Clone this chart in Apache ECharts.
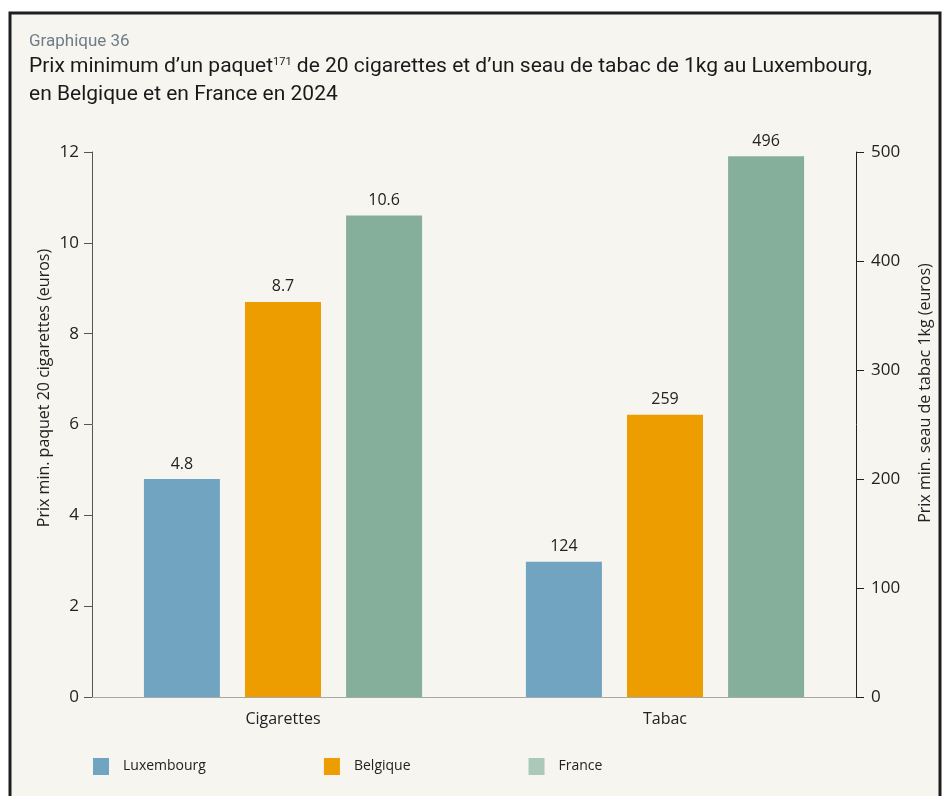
<!DOCTYPE html>
<html><head><meta charset="utf-8">
<script src="https://cdn.jsdelivr.net/npm/echarts@6/dist/echarts.min.js"></script>
<style>html,body{margin:0;padding:0;background:#fff}#c{width:942px;height:796px}</style>
</head><body><div id="c"></div>
<script>
const categories = ['Cigarettes', 'Tabac'];
const countries = ['Luxembourg', 'Belgique', 'France'];
const cigarettesValues = [4.8, 8.7, 10.6];
const tabacValues = [124, 259, 496];
const leftTicks = [0, 2, 4, 6, 8, 10, 12];
const rightTicks = [0, 100, 200, 300, 400, 500];
const colors = ['#71a4c0', '#ee9d00', '#85af9b'];
const legendColors = ['#71a4c0', '#ee9d00', '#abc9bb'];

const chart = echarts.init(document.getElementById('c'));
const F = '"Open Sans", "Noto Sans", sans-serif';
const labelStyle = {show: true, position: 'top', distance: 7, color: '#222', fontSize: 16, fontFamily: F};

const series = [];
countries.forEach((c, i) => {
  series.push({name: c, type: 'bar', xAxisIndex: 0, yAxisIndex: 0, barWidth: 76, barGap: '33%',
    itemStyle: {color: colors[i]}, label: labelStyle,
    data: [cigarettesValues[i], '-']});
});
countries.forEach((c, i) => {
  series.push({name: c, type: 'bar', xAxisIndex: 1, yAxisIndex: 1, barWidth: 76, barGap: '33%',
    itemStyle: {color: colors[i]}, label: labelStyle,
    data: ['-', tabacValues[i]]});
});

chart.setOption({
  backgroundColor: '#ffffff',
  animation: false,
  graphic: [
    {type: 'rect', shape: {x: 10, y: 13, width: 930, height: 800}, style: {fill: '#f6f5f0', stroke: '#1e1e1e', lineWidth: 3}, z: -10},
    {type: 'text', x: 44, y: 388, rotation: Math.PI / 2, style: {text: 'Prix min. paquet 20 cigarettes (euros)', fill: '#222', font: '16px "Open Sans", sans-serif', align: 'center', verticalAlign: 'middle'}},
    {type: 'text', x: 925, y: 393, rotation: Math.PI / 2, style: {text: 'Prix min. seau de tabac 1kg (euros)', fill: '#222', font: '16px "Open Sans", sans-serif', align: 'center', verticalAlign: 'middle'}}
  ],
  title: [
    {text: 'Graphique 36', left: 24, top: 28, textStyle: {color: '#6f7d87', fontSize: 17, fontWeight: 'normal', fontFamily: 'Roboto'}},
    {text: 'Prix minimum d’un paquet{sup|171} de 20 cigarettes et d’un seau de tabac de 1kg au Luxembourg,\nen Belgique et en France en 2024',
     left: 24, top: 48,
     textStyle: {color: '#1a1a1a', fontSize: 21, fontWeight: 'normal', fontFamily: 'Roboto', lineHeight: 27.5,
       rich: {sup: {fontSize: 11, fontFamily: 'Roboto', color: '#1a1a1a', padding: [0, 0, 9, 0]}}}}
  ],
  legend: {
    left: 88, top: 753, itemWidth: 16, itemHeight: 17, itemGap: 118, icon: 'rect',
    textStyle: {color: '#222', fontSize: 14, fontFamily: F, padding: [0, 0, 0, 9]},
    data: countries.map((c, i) => ({name: c, itemStyle: {color: legendColors[i]}}))
  },
  grid: {left: 92, right: 86, top: 152, bottom: 99, containLabel: false},
  xAxis: [
    {type: 'category', data: categories, axisLine: {lineStyle: {color: '#a8a8a8', width: 1}}, axisTick: {show: false},
     axisLabel: {color: '#222', fontSize: 16, fontFamily: F, margin: 14}},
    {type: 'category', data: categories, show: false}
  ],
  yAxis: [
    {type: 'value', min: 0, max: 12, interval: 2, position: 'left',
     axisLine: {show: true, lineStyle: {color: '#555'}}, axisTick: {show: true, length: 8, lineStyle: {color: '#555'}},
     splitLine: {show: false},
     axisLabel: {color: '#222', fontSize: 17, fontFamily: F, margin: 13,
       formatter: v => leftTicks.includes(v) ? String(v) : ''}},
    {type: 'value', min: 0, max: 500, interval: 100, position: 'right',
     axisLine: {show: true, lineStyle: {color: '#222'}}, axisTick: {show: true, length: 8, lineStyle: {color: '#222'}},
     splitLine: {show: false},
     axisLabel: {color: '#222', fontSize: 17, fontFamily: F, margin: 15,
       formatter: v => rightTicks.includes(v) ? String(v) : ''}}
  ],
  series: series
});
</script></body></html>
